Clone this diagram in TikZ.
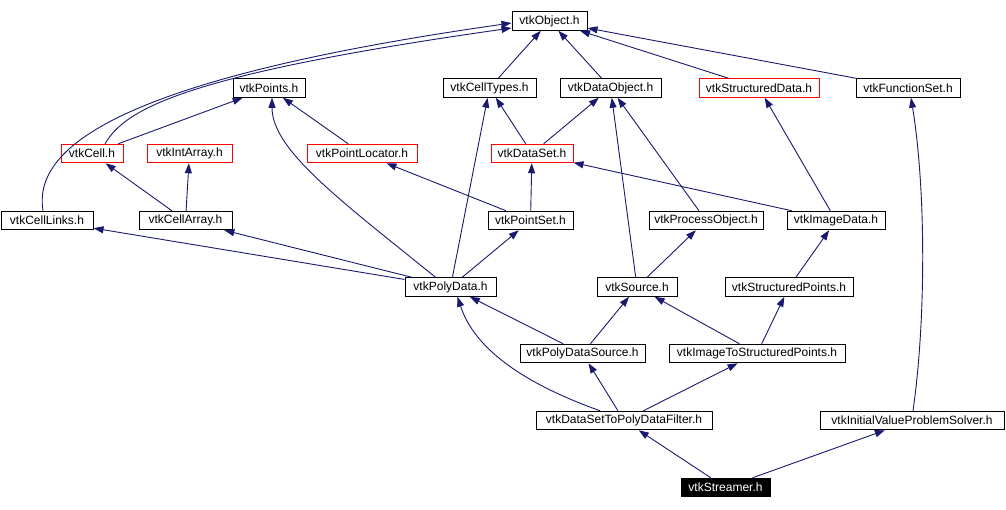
\documentclass[tikz,border=0pt]{standalone}
\usepackage{fontspec}
\setmainfont{Liberation Sans}
\usetikzlibrary{arrows.meta}
\usepackage{xcolor}
\definecolor{edgeblue}{HTML}{191970}
\definecolor{hdrred}{HTML}{FF0000}

\begin{document}
\begin{tikzpicture}[x=1pt,y=-1pt,
    hdr/.style={draw=black,line width=1pt,fill=white,minimum height=18.5pt,
                inner sep=0pt,font=\fontsize{12}{13}\selectfont},
    hdrred/.style={hdr,draw=hdrred},
    hdrsel/.style={hdr,fill=black,text=white},
    dep/.style={edgeblue,line width=0.9pt,-{Triangle[length=10pt,width=7pt]}}]
  \useasboundingbox (0,0) rectangle (1006,509);
  % header boxes: name/style/x/y/width/label
  \foreach \nm/\st/\cx/\cy/\w/\lbl in {
    obj/hdr/549.5/21/75/vtkObject.h,
    points/hdr/269/88/72/vtkPoints.h,
    celltypes/hdr/489.5/88/93/vtkCellTypes.h,
    dataobj/hdr/610.5/88/101/vtkDataObject.h,
    structdata/hdrred/759/88/120/vtkStructuredData.h,
    funcset/hdr/908/88/104/vtkFunctionSet.h,
    cell/hdrred/92/153.5/62/vtkCell.h,
    intarray/hdrred/189.5/153.5/85/vtkIntArray.h,
    ptlocator/hdrred/362/153.5/110/vtkPointLocator.h,
    dataset/hdrred/532/153.5/82/vtkDataSet.h,
    celllinks/hdr/47/220.5/92/vtkCellLinks.h,
    cellarray/hdr/185.5/220.5/93/vtkCellArray.h,
    pointset/hdr/530.5/220.5/85/vtkPointSet.h,
    procobj/hdr/706/220.5/114/vtkProcessObject.h,
    imagedata/hdr/836/220.5/98/vtkImageData.h,
    polydata/hdr/450.5/287/91/vtkPolyData.h,
    source/hdr/637/287/80/vtkSource.h,
    structpts/hdr/789/287/128/vtkStructuredPoints.h,
    pdsource/hdr/582.5/353.5/125/vtkPolyDataSource.h,
    imgtosp/hdr/757/353.5/176/vtkImageToStructuredPoints.h,
    dstopd/hdr/624/420.5/176/vtkDataSetToPolyDataFilter.h,
    ivpsolver/hdr/912/420.5/184/vtkInitialValueProblemSolver.h,
    streamer/hdrsel/725.5/487.5/89/vtkStreamer.h} {
    \node[\st,minimum width=\w] (\nm) at (\cx,\cy) {\lbl};
  }
  % straight includes
  \foreach \a/\b in {cellarray/cell, cellarray/intarray, cell/points,
      ptlocator/points, pointset/ptlocator, pointset/dataset,
      dataset/celltypes, dataset/dataobj, celltypes/obj, dataobj/obj,
      structdata/obj, funcset/obj, imagedata/dataset, imagedata/structdata,
      procobj/dataobj, source/dataobj, source/procobj, structpts/imagedata,
      polydata/celllinks, polydata/cellarray, polydata/celltypes,
      polydata/pointset, pdsource/polydata, pdsource/source, imgtosp/source,
      imgtosp/structpts, dstopd/pdsource, dstopd/imgtosp, streamer/dstopd,
      streamer/ivpsolver} {
    \draw[dep] (\a) -- (\b);
  }
  % curved includes
  \draw[dep] ([xshift=-4pt]celllinks.north) .. controls (33,150) and (110,80)
        .. ([yshift=-2pt]obj.west);
  \draw[dep] ([xshift=13pt]cell.north) .. controls (125,110) and (180,75)
        .. ([yshift=-7pt]obj.west);
  \draw[dep] ([xshift=-15pt]polydata.north) .. controls (340,200) and (272,150)
        .. ([xshift=3pt]points.south);
  \draw[dep] ([xshift=-24pt]dstopd.north) .. controls (500,375) and (470,335)
        .. ([xshift=7pt]polydata.south);
  \draw[dep] ([xshift=1pt]ivpsolver.north) .. controls (926,320) and (926,190)
        .. ([xshift=3pt]funcset.south);
\end{tikzpicture}
\end{document}
